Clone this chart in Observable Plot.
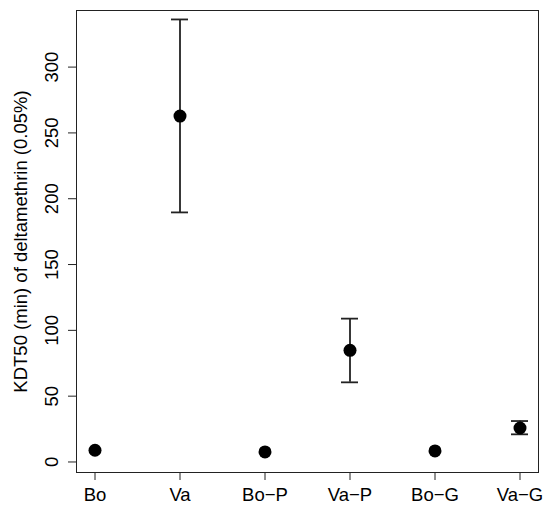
<!DOCTYPE html>
<html>
<head>
<meta charset="utf-8">
<script src="https://cdn.jsdelivr.net/npm/d3@7"></script>
<script src="https://cdn.jsdelivr.net/npm/@observablehq/plot@0.6"></script>
<style>
  body { margin: 0; background: #fff; }
</style>
</head>
<body>
<div id="plot1"></div>
<script>
// KDT50 per group
const groups = ["Bo", "Va", "Bo-P", "Va-P", "Bo-G", "Va-G"];
const kdt50 = [8.9, 262.8, 7.6, 84.8, 8.4, 25.8];
const lower = [null, 189.6, null, 60.5, null, 21.0];
const upper = [null, 336.2, null, 108.9, null, 31.1];

const rows = groups.map((g, i) => ({group: g, kdt: kdt50[i], lo: lower[i], hi: upper[i]}));
const bars = rows.filter(d => d.lo != null);

const ink = "#222";

const plot1 = Plot.plot({
    width: 550,
    height: 519,
    marginLeft: 76,
    marginRight: 12,
    marginTop: 10,
    marginBottom: 47,
    // band width = cap width of the error bars
    x: {type: "band", domain: groups, paddingInner: 0.8, paddingOuter: 0.1, axis: null},
    y: {domain: [-8, 343], axis: null},
    marks: [
        Plot.frame({stroke: ink, strokeWidth: 1}),
        Plot.axisX({
            tickSize: 8,
            tickPadding: 7,
            stroke: ink,
            fontSize: "18.5px",
            tickFormat: d => d.replace("-", "\u2212"),
            label: null
        }),
        Plot.axisY({
            ticks: [0, 50, 100, 150, 200, 250, 300],
            tickSize: 8,
            tickRotate: -90,
            tickPadding: 11,
            stroke: ink,
            fontSize: "18.5px",
            label: "KDT50 (min) of deltamethrin (0.05%)",
            labelAnchor: "center",
            labelOffset: 63,
            labelArrow: "none"
        }),
        Plot.ruleX(bars, {x: "group", y1: "lo", y2: "hi", stroke: ink, strokeWidth: 1.8}),
        Plot.tickY(bars, {x: "group", y: "hi", stroke: ink, strokeWidth: 1.8}),
        Plot.tickY(bars, {x: "group", y: "lo", stroke: ink, strokeWidth: 1.8}),
        Plot.dot(rows, {x: "group", y: "kdt", r: 6.5, fill: "black"})
    ],
    style: {
        fontFamily: "'Liberation Sans', Arial, sans-serif",
        fontSize: "18.5px",
        color: "black",
        background: "white"
    }
});

d3.select('#plot1').append(() => plot1)
</script>
</body>
</html>
